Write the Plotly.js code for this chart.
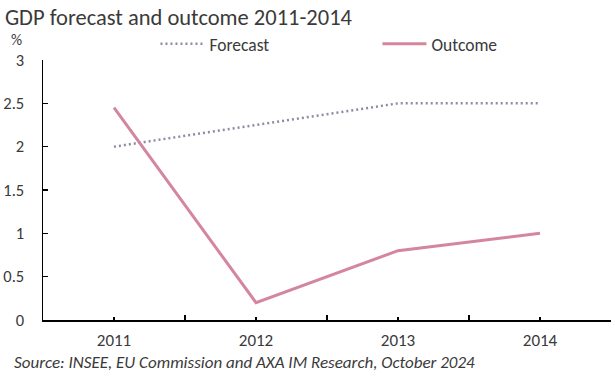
<!DOCTYPE html>
<html><head><meta charset="utf-8">
<script src="https://cdn.plot.ly/plotly-3.0.1.min.js"></script>
<style>body{margin:0;padding:0;background:#fff}#chart{width:615px;height:379px}</style>
</head><body><div id="chart"></div>
<script>
const years = [2011, 2012, 2013, 2014];
const forecast = [2.0, 2.25, 2.5, 2.5];
const outcome = [2.45, 0.2, 0.8, 1.0];
const yTicks = [0, 0.5, 1, 1.5, 2, 2.5, 3];
const xBounds = [2010.5, 2011.5, 2012.5, 2013.5, 2014.5];
const xTickText = ['2011', '2012', '2013', '2014'];
const titleText = 'GDP forecast and outcome 2011-2014';
const sourceText = 'Source: INSEE, EU Commission and AXA IM Research, October 2024';
const FONT = 'Carlito, Calibri, Lato, sans-serif';
const TXT = '#3a3a3a';

const traces = [
  {x: years, y: forecast, name: 'Forecast', type: 'scatter', mode: 'lines',
   line: {color: '#8c8ca6', width: 2.5, dash: '2px,3px'}},
  {x: years, y: outcome, name: 'Outcome', type: 'scatter', mode: 'lines',
   line: {color: '#d4869f', width: 3}}
];
const layout = {
  width: 615, height: 379,
  margin: {l: 43, r: 4, t: 60, b: 59, autoexpand: false},
  paper_bgcolor: '#fff', plot_bgcolor: '#fff',
  font: {family: FONT, size: 17, color: TXT},
  title: {text: titleText, x: 0.008, xanchor: 'left', y: 0.955, yanchor: 'middle',
          font: {family: FONT, size: 22.5, color: TXT}},
  showlegend: true,
  legend: {orientation: 'h', x: 0.198, xref: 'paper', y: 1.062, yanchor: 'middle',
           xanchor: 'left', font: {family: FONT, size: 17.5, color: TXT},
           itemwidth: 44, entrywidth: 163, entrywidthmode: 'pixels', bgcolor: 'rgba(0,0,0,0)'},
  xaxis: {range: [2010.5, 2014.5], tickmode: 'array', tickvals: years, ticktext: xTickText,
          showline: true, linecolor: '#000', linewidth: 1.5, ticks: 'inside', ticklen: 3,
          tickcolor: '#000', tickwidth: 1.3, showgrid: false, zeroline: false, fixedrange: true,
          minor: {tickmode: 'array', tickvals: xBounds, ticks: 'inside', ticklen: 5,
                  tickcolor: '#000', tickwidth: 1.3, showgrid: false},
          ticklabelstandoff: 4, tickfont: {family: FONT, size: 17, color: TXT}},
  yaxis: {range: [0, 3], tickmode: 'array', tickvals: yTicks, ticktext: yTicks.map(String),
          showline: true, linecolor: '#000', linewidth: 1.5, ticks: 'inside', ticklen: 5,
          tickcolor: '#000', tickwidth: 1.3, showgrid: false, zeroline: false, fixedrange: true,
          ticklabelstandoff: 14, tickfont: {family: FONT, size: 16.5, color: TXT}},
  annotations: [
    {text: '%', xref: 'paper', yref: 'paper', x: -0.046, y: 1.078, xanchor: 'center', yanchor: 'middle',
     showarrow: false, font: {family: FONT, size: 15.5, color: TXT}},
    {text: '<i>' + sourceText + '</i>', xref: 'paper', yref: 'paper', x: -0.054, y: -0.162,
     xanchor: 'left', yanchor: 'middle', showarrow: false, font: {family: FONT, size: 17, color: TXT}}
  ]
};
Plotly.newPlot('chart', traces, layout, {displayModeBar: false, staticPlot: true});
</script></body></html>
